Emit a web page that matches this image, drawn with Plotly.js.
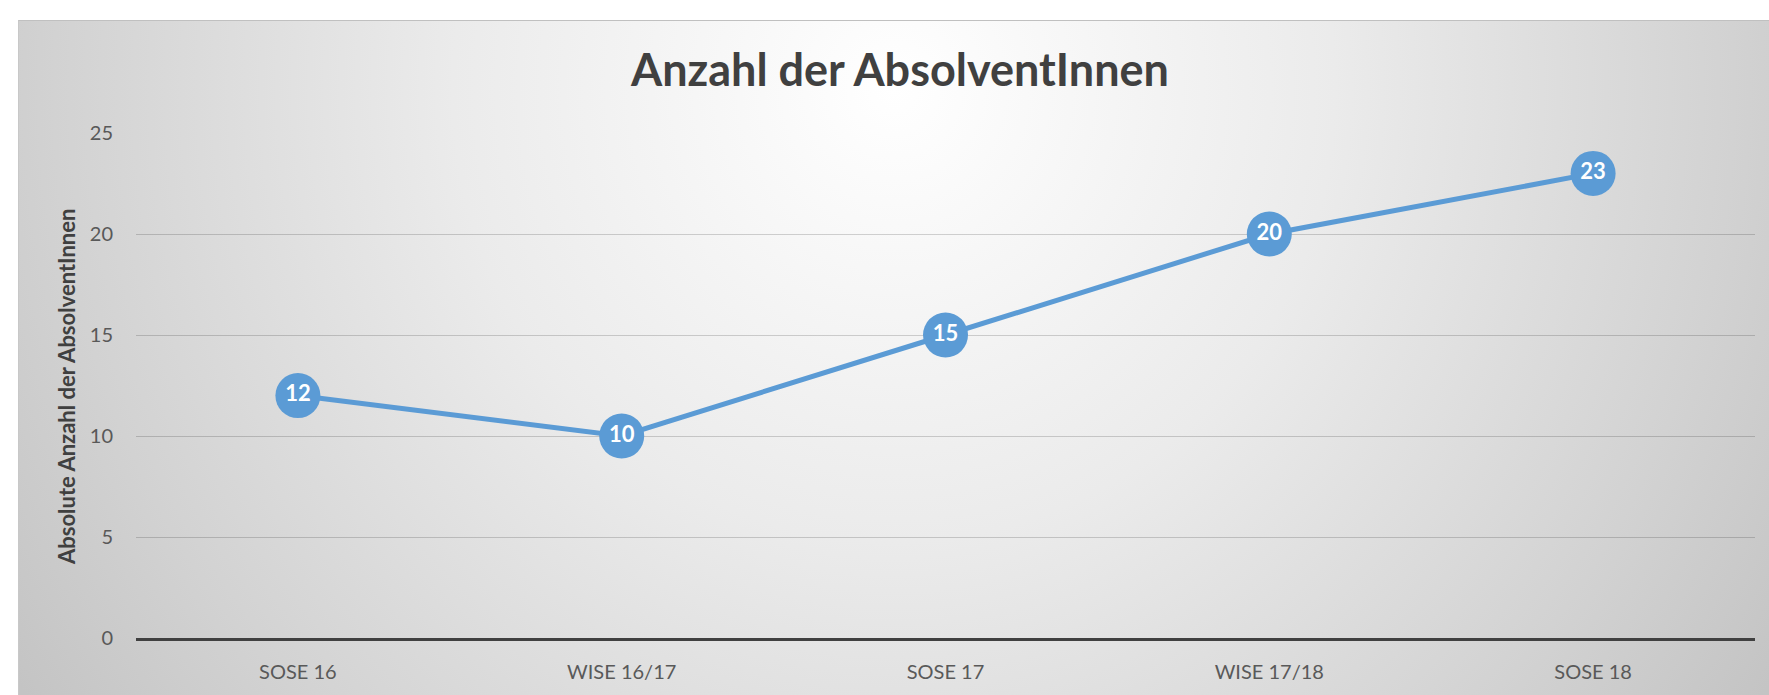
<!DOCTYPE html>
<html>
<head>
<meta charset="utf-8">
<script src="https://cdn.plot.ly/plotly-3.0.1.min.js"></script>
<style>
  html, body { margin: 0; padding: 0; background: #ffffff; }
  #frame {
    position: absolute; left: 18px; top: 20px; width: 1751px; height: 675px;
    border-top: 1px solid #c0c0c0; border-left: 1px solid #c8c8c8; box-sizing: border-box;
    background: radial-gradient(ellipse 60% 160% at 50% 10%, #ffffff 0%, #ebebeb 42%, #d2d2d2 80%, #c4c4c4 100%);
  }
  #chart { position: absolute; left: 18px; top: 20px; width: 1751px; height: 675px; }
</style>
</head>
<body>
<div id="frame"></div>
<div id="chart"></div>
<script>
const categories = ["SOSE 16", "WISE 16/17", "SOSE 17", "WISE 17/18", "SOSE 18"];
const graduates = [12, 10, 15, 20, 23];
const yTicks = [0, 5, 10, 15, 20, 25];
const chartTitle = "Anzahl der AbsolventInnen";
const yTitle = "Absolute Anzahl der AbsolventInnen";

const FONT = "Lato, 'Open Sans', sans-serif";

const trace = {
  type: "scatter",
  mode: "lines+markers+text",
  x: categories,
  y: graduates,
  text: graduates.map(String),
  textposition: "middle center",
  textfont: { family: FONT, size: 22, color: "#ffffff", weight: "bold" },
  line: { color: "#5b9bd5", width: 5 },
  marker: { color: "#5b9bd5", size: 45, line: { width: 0 } },
  cliponaxis: false,
  hoverinfo: "skip"
};

const layout = {
  width: 1751,
  height: 675,
  paper_bgcolor: "rgba(0,0,0,0)",
  plot_bgcolor: "rgba(0,0,0,0)",
  margin: { l: 118, r: 14, t: 113, b: 57 },
  showlegend: false,
  title: {
    text: "<b>" + chartTitle + "</b>",
    font: { family: FONT, size: 45, color: "#404040" },
    x: 0.5037, xref: "container", xanchor: "center",
    y: 0.925, yref: "container", yanchor: "middle"
  },
  xaxis: {
    type: "category",
    range: [-0.5, 4.5],
    showgrid: false,
    zeroline: false,
    showline: true,
    linecolor: "#404040",
    linewidth: 3,
    ticks: "outside",
    ticklen: 14,
    tickcolor: "rgba(0,0,0,0)",
    tickfont: { family: FONT, size: 20, color: "#595959" },
    fixedrange: true
  },
  yaxis: {
    range: [0, 25],
    tickvals: yTicks,
    ticktext: yTicks.map(String),
    showgrid: true,
    gridcolor: "rgba(0,0,0,0.17)",
    gridwidth: 1,
    zeroline: false,
    showline: false,
    ticks: "outside",
    ticklen: 18,
    tickcolor: "rgba(0,0,0,0)",
    tickfont: { family: FONT, size: 20, color: "#595959" },
    fixedrange: true
  },
  annotations: [{
    text: "<b>" + yTitle + "</b>",
    xref: "paper", yref: "paper",
    x: 0, y: 0.5,
    xanchor: "center", yanchor: "middle",
    xshift: -69.5, yshift: -2,
    textangle: -90,
    showarrow: false,
    font: { family: FONT, size: 22, color: "#404040" }
  }]
};

Plotly.newPlot("chart", [trace], layout, { staticPlot: true, displayModeBar: false });
</script>
</body>
</html>
